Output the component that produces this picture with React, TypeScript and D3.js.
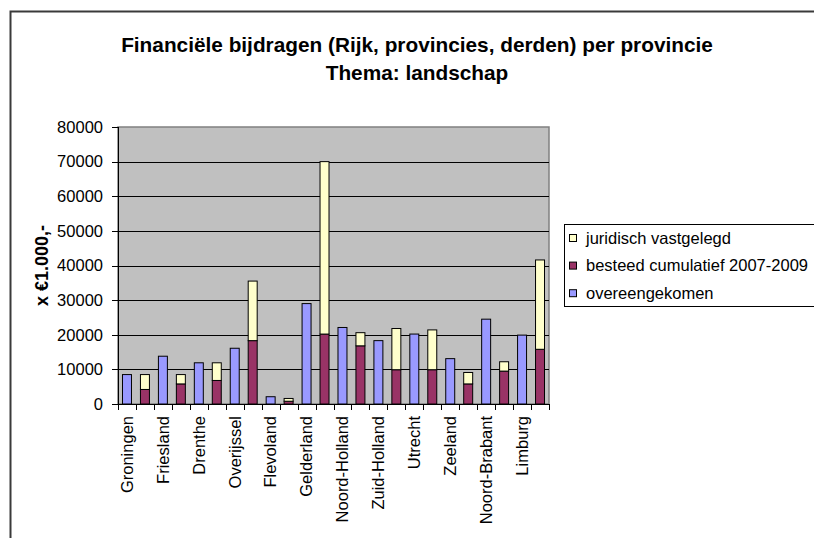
import React from "react";
import * as d3 from "d3";

const provinces = [
  "Groningen", "Friesland", "Drenthe", "Overijssel", "Flevoland", "Gelderland",
  "Noord-Holland", "Zuid-Holland", "Utrecht", "Zeeland", "Noord-Brabant", "Limburg",
];
const overeengekomen = [8500, 13800, 11900, 16100, 2100, 29000, 22100, 18300, 20200, 13100, 24500, 19900];
const besteed = [4200, 5800, 6800, 18300, 800, 20200, 16800, 9900, 9900, 5800, 9500, 15800];
const juridisch = [4300, 2700, 5100, 17200, 800, 49800, 3800, 11900, 11500, 3300, 2700, 25800];
const yTicks = [0, 10000, 20000, 30000, 40000, 50000, 60000, 70000, 80000];
const legendLabels = ["juridisch vastgelegd", "besteed cumulatief 2007-2009", "overeengekomen"];

const W = 814, H = 538;
const FONT = "'Liberation Sans', Arial, Helvetica, sans-serif";
const C_BLUE = "#9999FF", C_MAROON = "#993366", C_YELLOW = "#FFFFCC";

export default function App() {
  const left = 118, right = 549, top = 127, bottom = 404;
  const slots = d3.range(provinces.length * 2).map(String);
  const x = d3.scaleBand<string>().domain(slots).range([left, right]).paddingInner(0).paddingOuter(0);
  const y = d3.scaleLinear().domain([0, 80000]).range([bottom, top]);
  const bw = x.bandwidth() * 0.5;

  const bars: React.ReactNode[] = [];
  provinces.forEach((p, i) => {
    const s1 = x(String(2 * i))! + x.bandwidth() / 2;
    const s2 = x(String(2 * i + 1))! + x.bandwidth() / 2;
    bars.push(
      <rect key={"o" + i} x={s1 - bw / 2} y={y(overeengekomen[i])} width={bw}
        height={y(0) - y(overeengekomen[i])} fill={C_BLUE} stroke="#000" strokeWidth={1} />
    );
    bars.push(
      <rect key={"b" + i} x={s2 - bw / 2} y={y(besteed[i])} width={bw}
        height={y(0) - y(besteed[i])} fill={C_MAROON} stroke="#000" strokeWidth={1} />
    );
    const tot = besteed[i] + juridisch[i];
    bars.push(
      <rect key={"j" + i} x={s2 - bw / 2} y={y(tot)} width={bw}
        height={y(besteed[i]) - y(tot)} fill={C_YELLOW} stroke="#000" strokeWidth={1} />
    );
  });

  const boundaries = d3.range(slots.length + 1).map((k) => left + k * x.step());

  return (
    <svg width={W} height={H} style={{ position: "absolute", left: 0, top: 0, background: "#fff" }}
      fontFamily={FONT}>
      <rect x={0} y={0} width={W} height={H} fill="#fff" />
      <path d={`M10.5,${H} L10.5,11.5 L${W},11.5`} fill="none" stroke="#3a3a3a" strokeWidth={2} />
      <text x={417} y={52} textAnchor="middle" fontSize={20.8} fontWeight="bold">
        Financiële bijdragen (Rijk, provincies, derden) per provincie
      </text>
      <text x={417} y={80} textAnchor="middle" fontSize={20.8} fontWeight="bold">
        Thema: landschap
      </text>

      <rect x={left} y={top} width={right - left} height={bottom - top} fill="#C0C0C0" stroke="#808080" strokeWidth={1.5} />
      {yTicks.filter((t) => t > 0 && t < 80000).map((t) => (
        <line key={t} x1={left} x2={right} y1={Math.round(y(t)) + 0.5} y2={Math.round(y(t)) + 0.5} stroke="#000" strokeWidth={1} />
      ))}
      {bars}

      <line x1={left + 0.5} x2={left + 0.5} y1={top} y2={bottom} stroke="#000" strokeWidth={1} />
      <line x1={left - 6} x2={right} y1={bottom + 0.5} y2={bottom + 0.5} stroke="#000" strokeWidth={1} />
      {yTicks.map((t) => (
        <g key={t}>
          <line x1={left - 6} x2={left} y1={Math.round(y(t)) + 0.5} y2={Math.round(y(t)) + 0.5} stroke="#000" />
          <text x={103} y={y(t)} dy="0.35em" textAnchor="end" fontSize={16.5}>{t}</text>
        </g>
      ))}
      {boundaries.map((bx, k) => (
        <line key={k} x1={Math.round(bx) + 0.5} x2={Math.round(bx) + 0.5} y1={bottom} y2={bottom + 6} stroke="#000" />
      ))}
      {provinces.map((p, i) => {
        const cx = x(String(2 * i))! + x.bandwidth() / 2;
        return (
          <text key={p} transform={`translate(${cx},${bottom + 12}) rotate(-90)`} textAnchor="end"
            dy="0.35em" fontSize={16.5}>{p}</text>
        );
      })}
      <text transform={`translate(42,${(top + bottom) / 2}) rotate(-90)`} textAnchor="middle"
        dy="0.35em" fontSize={18} fontWeight="bold">x €1.000,-</text>

      <rect x={564.5} y={224.5} width={270} height={82} fill="#fff" stroke="#000" strokeWidth={1} />
      {legendLabels.map((l, i) => {
        const cy = 238 + i * 27.6;
        const col = [C_YELLOW, C_MAROON, C_BLUE][i];
        return (
          <g key={l}>
            <rect x={569.5} y={cy - 3.5} width={7} height={7} fill={col} stroke="#000" strokeWidth={1} />
            <text x={586} y={cy} dy="0.35em" fontSize={16.5}>{l}</text>
          </g>
        );
      })}
    </svg>
  );
}
